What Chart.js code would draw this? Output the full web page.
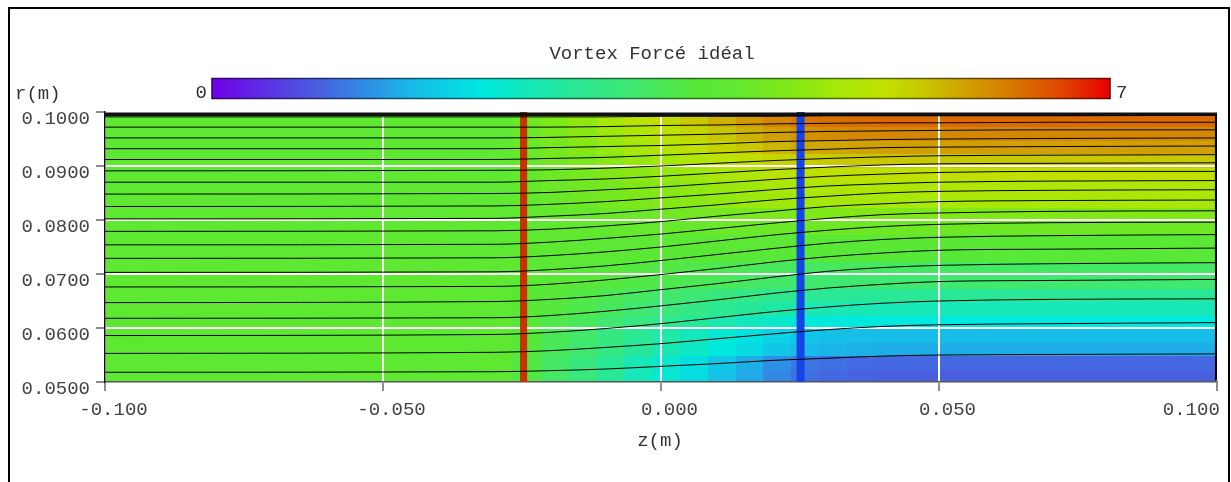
<!DOCTYPE html>
<html>
<head>
<meta charset="utf-8">
<script src="https://cdn.jsdelivr.net/npm/chart.js@4.4.0/dist/chart.umd.min.js"></script>
<style>
html,body{margin:0;padding:0;background:#fff;}
#wrap{width:1231px;height:482px;position:relative;}
</style>
</head>
<body>
<div id="wrap"><canvas id="c" width="1231" height="482"></canvas></div>
<script>
// ---------- data ----------
const chartTitle = 'Vortex Forcé idéal';
const zTicks = [-0.1, -0.05, 0, 0.05, 0.1];
const zTickLabels = ['-0.100', '-0.050', '0.000', '0.050', '0.100'];
const rTicks = [0.05, 0.06, 0.07, 0.08, 0.09, 0.1];
const rTickLabels = ['0.0500', '0.0600', '0.0700', '0.0800', '0.0900', '0.1000'];
const zAxisTitle = 'z(m)';
const rAxisTitle = 'r(m)';
const colorMin = 0, colorMax = 7;

// colour map (value -> colour)
const colorStopValues = [0, 0.84, 1.54, 2.1, 2.8, 3.29, 3.78, 4.06, 4.48, 4.9, 5.25, 5.53, 5.88, 6.3, 6.65, 7];
const colorStopColors = ['#7000e8', '#4860e0', '#18b8e8', '#00e8e0', '#28e898', '#40e870', '#58e838', '#60e830',
                         '#80e818', '#a8e808', '#c0e000', '#c8c800', '#d0a000', '#d87000', '#e04000', '#e80000'];

// field cells: z edges, r edges, values (rows bottom -> top)
const zEdges = [-0.1, -0.0265, -0.0215, -0.0165, -0.0115, -0.0065, -0.0015, 0.0035, 0.0085, 0.0135, 0.0185, 0.0235, 0.0285, 0.0335, 0.0385, 0.1];
const rEdges = [0.05, 0.0525, 0.055, 0.0575, 0.06, 0.0625, 0.065, 0.0675, 0.07, 0.0725, 0.075,
                0.0775, 0.08, 0.0825, 0.085, 0.0875, 0.09, 0.0925, 0.095, 0.0975, 0.1];
const fieldValues = [
  [4.0, 3.68, 3.37, 3.12, 2.80, 2.48, 2.23, 1.95, 1.66, 1.41, 1.16, 0.97, 0.90, 0.87, 0.84],
  [4.0, 3.69, 3.39, 3.14, 2.83, 2.52, 2.27, 1.99, 1.71, 1.46, 1.21, 1.02, 0.96, 0.93, 0.90],
  [4.0, 3.74, 3.49, 3.29, 3.04, 2.78, 2.58, 2.35, 2.12, 1.92, 1.72, 1.56, 1.51, 1.48, 1.45],
  [4.0, 3.76, 3.52, 3.33, 3.09, 2.85, 2.66, 2.44, 2.22, 2.03, 1.84, 1.70, 1.65, 1.62, 1.60],
  [4.0, 3.81, 3.62, 3.47, 3.28, 3.09, 2.94, 2.77, 2.59, 2.44, 2.29, 2.18, 2.14, 2.12, 2.10],
  [4.0, 3.85, 3.70, 3.58, 3.43, 3.28, 3.16, 3.03, 2.89, 2.77, 2.65, 2.56, 2.53, 2.52, 2.50],
  [4.0, 3.88, 3.76, 3.66, 3.54, 3.42, 3.33, 3.22, 3.11, 3.02, 2.92, 2.85, 2.82, 2.81, 2.80],
  [4.0, 3.93, 3.86, 3.80, 3.73, 3.66, 3.60, 3.54, 3.47, 3.42, 3.36, 3.32, 3.30, 3.30, 3.29],
  [4.0, 3.94, 3.88, 3.83, 3.77, 3.71, 3.66, 3.61, 3.56, 3.51, 3.46, 3.42, 3.41, 3.41, 3.40],
  [4.0, 3.98, 3.96, 3.94, 3.92, 3.89, 3.88, 3.86, 3.84, 3.82, 3.80, 3.79, 3.78, 3.78, 3.78],
  [4.0, 3.99, 3.98, 3.97, 3.96, 3.95, 3.94, 3.94, 3.93, 3.92, 3.91, 3.90, 3.90, 3.90, 3.90],
  [4.0, 4.03, 4.05, 4.07, 4.10, 4.12, 4.14, 4.16, 4.19, 4.21, 4.23, 4.24, 4.25, 4.25, 4.25],
  [4.0, 4.05, 4.10, 4.13, 4.18, 4.23, 4.27, 4.31, 4.36, 4.39, 4.43, 4.46, 4.47, 4.48, 4.48],
  [4.0, 4.09, 4.18, 4.25, 4.34, 4.43, 4.50, 4.59, 4.67, 4.74, 4.81, 4.86, 4.88, 4.89, 4.90],
  [4.0, 4.10, 4.20, 4.28, 4.38, 4.48, 4.56, 4.65, 4.74, 4.82, 4.90, 4.96, 4.98, 4.99, 5.00],
  [4.0, 4.13, 4.25, 4.35, 4.48, 4.60, 4.70, 4.81, 4.93, 5.03, 5.13, 5.20, 5.23, 5.24, 5.25],
  [4.0, 4.15, 4.31, 4.43, 4.58, 4.73, 4.86, 5.00, 5.13, 5.26, 5.38, 5.47, 5.50, 5.52, 5.53],
  [4.0, 4.19, 4.38, 4.53, 4.71, 4.90, 5.05, 5.22, 5.39, 5.54, 5.69, 5.81, 5.84, 5.86, 5.88],
  [4.0, 4.21, 4.42, 4.59, 4.80, 5.01, 5.18, 5.37, 5.55, 5.72, 5.89, 6.02, 6.06, 6.08, 6.10],
  [4.0, 4.24, 4.47, 4.66, 4.89, 5.13, 5.32, 5.53, 5.74, 5.93, 6.12, 6.26, 6.30, 6.33, 6.35]
];

// streamlines: r positions at z stations
const streamZ = [-0.1, -0.03, -0.02, -0.01, 0, 0.01, 0.02, 0.03, 0.04, 0.05, 0.07, 0.1];
const streamR = [
  [0.0518, 0.0519, 0.0521, 0.0524, 0.0529, 0.0534, 0.0540, 0.0544, 0.0548, 0.0550, 0.0551, 0.0552],
  [0.0553, 0.0555, 0.0558, 0.0564, 0.0571, 0.0580, 0.0589, 0.0597, 0.0603, 0.0606, 0.0608, 0.0610],
  [0.0586, 0.0588, 0.0592, 0.0599, 0.0608, 0.0619, 0.0630, 0.0639, 0.0646, 0.0650, 0.0653, 0.0654],
  [0.0618, 0.0619, 0.0623, 0.0631, 0.0641, 0.0652, 0.0664, 0.0674, 0.0681, 0.0686, 0.0688, 0.0690],
  [0.0647, 0.0649, 0.0653, 0.0660, 0.0671, 0.0682, 0.0694, 0.0705, 0.0712, 0.0716, 0.0719, 0.0721],
  [0.0676, 0.0677, 0.0681, 0.0689, 0.0699, 0.0710, 0.0722, 0.0732, 0.0739, 0.0744, 0.0746, 0.0748],
  [0.0703, 0.0704, 0.0708, 0.0715, 0.0725, 0.0736, 0.0747, 0.0757, 0.0764, 0.0768, 0.0771, 0.0773],
  [0.0729, 0.0730, 0.0734, 0.0741, 0.0750, 0.0761, 0.0772, 0.0781, 0.0788, 0.0792, 0.0795, 0.0796],
  [0.0754, 0.0755, 0.0759, 0.0766, 0.0774, 0.0784, 0.0794, 0.0803, 0.0810, 0.0813, 0.0816, 0.0817],
  [0.0779, 0.0780, 0.0783, 0.0789, 0.0797, 0.0807, 0.0816, 0.0825, 0.0830, 0.0834, 0.0836, 0.0837],
  [0.0802, 0.0803, 0.0807, 0.0812, 0.0820, 0.0828, 0.0837, 0.0844, 0.0850, 0.0853, 0.0855, 0.0856],
  [0.0825, 0.0826, 0.0829, 0.0834, 0.0841, 0.0848, 0.0856, 0.0863, 0.0867, 0.0870, 0.0872, 0.0873],
  [0.0848, 0.0849, 0.0851, 0.0856, 0.0861, 0.0868, 0.0875, 0.0881, 0.0885, 0.0888, 0.0890, 0.0890],
  [0.0870, 0.0870, 0.0873, 0.0876, 0.0881, 0.0887, 0.0893, 0.0898, 0.0902, 0.0904, 0.0905, 0.0906],
  [0.0891, 0.0892, 0.0893, 0.0896, 0.0900, 0.0905, 0.0910, 0.0914, 0.0917, 0.0919, 0.0920, 0.0921],
  [0.0912, 0.0912, 0.0914, 0.0916, 0.0920, 0.0924, 0.0928, 0.0931, 0.0934, 0.0935, 0.0936, 0.0937],
  [0.0932, 0.0932, 0.0934, 0.0936, 0.0938, 0.0941, 0.0945, 0.0947, 0.0949, 0.0950, 0.0951, 0.0952],
  [0.0952, 0.0952, 0.0953, 0.0955, 0.0957, 0.0959, 0.0962, 0.0964, 0.0965, 0.0966, 0.0967, 0.0967],
  [0.0972, 0.0972, 0.0972, 0.0973, 0.0975, 0.0976, 0.0978, 0.0979, 0.0980, 0.0980, 0.0981, 0.0981],
  [0.0991, 0.0991, 0.0991, 0.0991, 0.0992, 0.0992, 0.0992, 0.0993, 0.0993, 0.0993, 0.0993, 0.0994]
];

// walls and blade rows
const wallTopR = 0.0996;
const wallRightZ = 0.0999;
const rMin = 0.05, rMax = 0.1, zMin = -0.1, zMax = 0.1;
const bladeLeadZ = -0.0247;
const bladeTrailZ = 0.0251;

// ---------- helpers ----------
function hexToRgb(h){ return [parseInt(h.substr(1,2),16), parseInt(h.substr(3,2),16), parseInt(h.substr(5,2),16)]; }
const stopRgb = colorStopColors.map(hexToRgb);
function colorFor(v){
  if (v <= colorStopValues[0]) return colorStopColors[0];
  for (let i = 1; i < colorStopValues.length; i++){
    if (v <= colorStopValues[i]){
      const t = (v - colorStopValues[i-1]) / (colorStopValues[i] - colorStopValues[i-1]);
      const a = stopRgb[i-1], b = stopRgb[i];
      return 'rgb(' + [0,1,2].map(k => Math.round(a[k] + (b[k]-a[k])*t)).join(',') + ')';
    }
  }
  return colorStopColors[colorStopColors.length-1];
}
const FONT = '"Liberation Mono", "DejaVu Sans Mono", monospace';

const fieldPlugin = {
  id: 'fieldPlugin',
  beforeDraw(chart){
    const {ctx, chartArea: ca, scales: {x, y}} = chart;
    ctx.save();
    ctx.beginPath();
    ctx.rect(ca.left, ca.top, ca.right - ca.left, ca.bottom - ca.top);
    ctx.clip();
    for (let i = 0; i < fieldValues.length; i++){
      const yt = Math.floor(y.getPixelForValue(rEdges[i+1]));
      const yb = Math.ceil(y.getPixelForValue(rEdges[i]));
      for (let j = 0; j < zEdges.length - 1; j++){
        const xl = Math.floor(x.getPixelForValue(zEdges[j]));
        const xr = Math.ceil(x.getPixelForValue(zEdges[j+1]));
        ctx.fillStyle = colorFor(fieldValues[i][j]);
        ctx.fillRect(xl, yt, xr - xl + 1, yb - yt + 1);
      }
    }
    ctx.restore();
  },
  afterDraw(chart){
    const ctx = chart.ctx;
    ctx.save();
    // frame
    ctx.strokeStyle = '#000';
    ctx.lineWidth = 2;
    ctx.strokeRect(9, 8, 1220, 500);
    // title
    ctx.fillStyle = '#333';
    ctx.font = '19px ' + FONT;
    ctx.textBaseline = 'middle';
    ctx.textAlign = 'center';
    ctx.fillText(chartTitle, 652, 54);
    // colour bar
    const cbL = 212, cbR = 1110, cbT = 78.5, cbB = 98.5;
    const g = ctx.createLinearGradient(cbL, 0, cbR, 0);
    const gd = ctx.createLinearGradient(cbL, 0, cbR, 0);
    colorStopValues.forEach((v, i) => {
      const f = (v - colorMin) / (colorMax - colorMin);
      g.addColorStop(f, colorStopColors[i]);
      const c = stopRgb[i].map(k => Math.round(k * 0.45));
      gd.addColorStop(f, 'rgb(' + c.join(',') + ')');
    });
    ctx.fillStyle = g;
    ctx.fillRect(cbL, cbT, cbR - cbL, cbB - cbT);
    ctx.strokeStyle = gd;
    ctx.lineWidth = 1.5;
    ctx.strokeRect(cbL, cbT, cbR - cbL, cbB - cbT);
    ctx.fillStyle = '#333';
    ctx.textAlign = 'right';
    ctx.fillText(String(colorMin), 207, 93);
    ctx.textAlign = 'left';
    ctx.fillText(String(colorMax), 1116, 93);
    // axis titles
    ctx.fillText(rAxisTitle, 15, 94);
    ctx.textAlign = 'center';
    ctx.fillText(zAxisTitle, 660, 441);
    ctx.restore();
  }
};

const lineDatasets = streamR.map(rs => ({
  data: streamZ.map((z, k) => ({x: z, y: rs[k]})),
  showLine: true, borderColor: '#000', borderWidth: 1, pointRadius: 0,
  cubicInterpolationMode: 'monotone', fill: false
}));
const wallDatasets = [
  {data: [{x: zMin, y: wallTopR}, {x: zMax, y: wallTopR}], showLine: true, borderColor: '#111', borderWidth: 3.5, pointRadius: 0},
  {data: [{x: wallRightZ, y: 0.0503}, {x: wallRightZ, y: 0.0998}], showLine: true, borderColor: '#000', borderWidth: 3, pointRadius: 0}
];
const bladeDatasets = [
  {data: [{x: bladeLeadZ, y: rMin}, {x: bladeLeadZ, y: rMax}], showLine: true, borderColor: '#c83200', borderWidth: 7, pointRadius: 0, clip: 8},
  {data: [{x: bladeLeadZ - 0.0005, y: rMin}, {x: bladeLeadZ - 0.0005, y: rMax}], showLine: true, borderColor: '#a02000', borderWidth: 1, pointRadius: 0, clip: 8},
  {data: [{x: bladeTrailZ, y: rMin}, {x: bladeTrailZ, y: rMax}], showLine: true, borderColor: '#1444e8', borderWidth: 8, pointRadius: 0, clip: 8},
  {data: [{x: bladeTrailZ, y: rMin}, {x: bladeTrailZ, y: rMax}], showLine: true, borderColor: '#0a28b0', borderWidth: 2, pointRadius: 0, clip: 8}
];

const tickFont = {family: FONT, size: 19};

new Chart(document.getElementById('c'), {
  type: 'scatter',
  data: {datasets: [...lineDatasets, ...wallDatasets, ...bladeDatasets]},
  options: {
    responsive: false,
    devicePixelRatio: 1,
    animation: false,
    events: [],
    layout: {padding: {top: 112, right: 14, bottom: 0, left: 0}},
    plugins: {legend: {display: false}, tooltip: {enabled: false}, title: {display: false}},
    scales: {
      x: {
        type: 'linear', min: zMin, max: zMax,
        afterBuildTicks: s => { s.ticks = zTicks.map(v => ({value: v})); },
        afterFit: s => { s.height = 100; s.paddingLeft = 0; s.paddingRight = 0; },
        border: {display: true, color: '#555', width: 1.5},
        grid: {color: '#ffffff', lineWidth: 2, tickColor: '#666', tickLength: 9, tickWidth: 1.5},
        ticks: {
          font: tickFont, color: '#444', padding: 8, labelOffset: 8.5, maxRotation: 0, autoSkip: false,
          callback: (v, i) => (i === zTickLabels.length - 1 ? zTickLabels[i] + '      ' : zTickLabels[i])
        }
      },
      y: {
        type: 'linear', min: rMin, max: rMax,
        afterBuildTicks: s => { s.ticks = rTicks.map(v => ({value: v})); },
        afterFit: s => { s.width = 105; },
        border: {display: true, color: '#111', width: 1.5},
        grid: {color: '#ffffff', lineWidth: 2, tickColor: '#666', tickLength: 9, tickWidth: 1.5},
        ticks: {
          font: tickFont, color: '#444', padding: 6, labelOffset: 7, autoSkip: false,
          callback: (v, i) => rTickLabels[i]
        }
      }
    }
  },
  plugins: [fieldPlugin]
});
</script>
</body>
</html>
